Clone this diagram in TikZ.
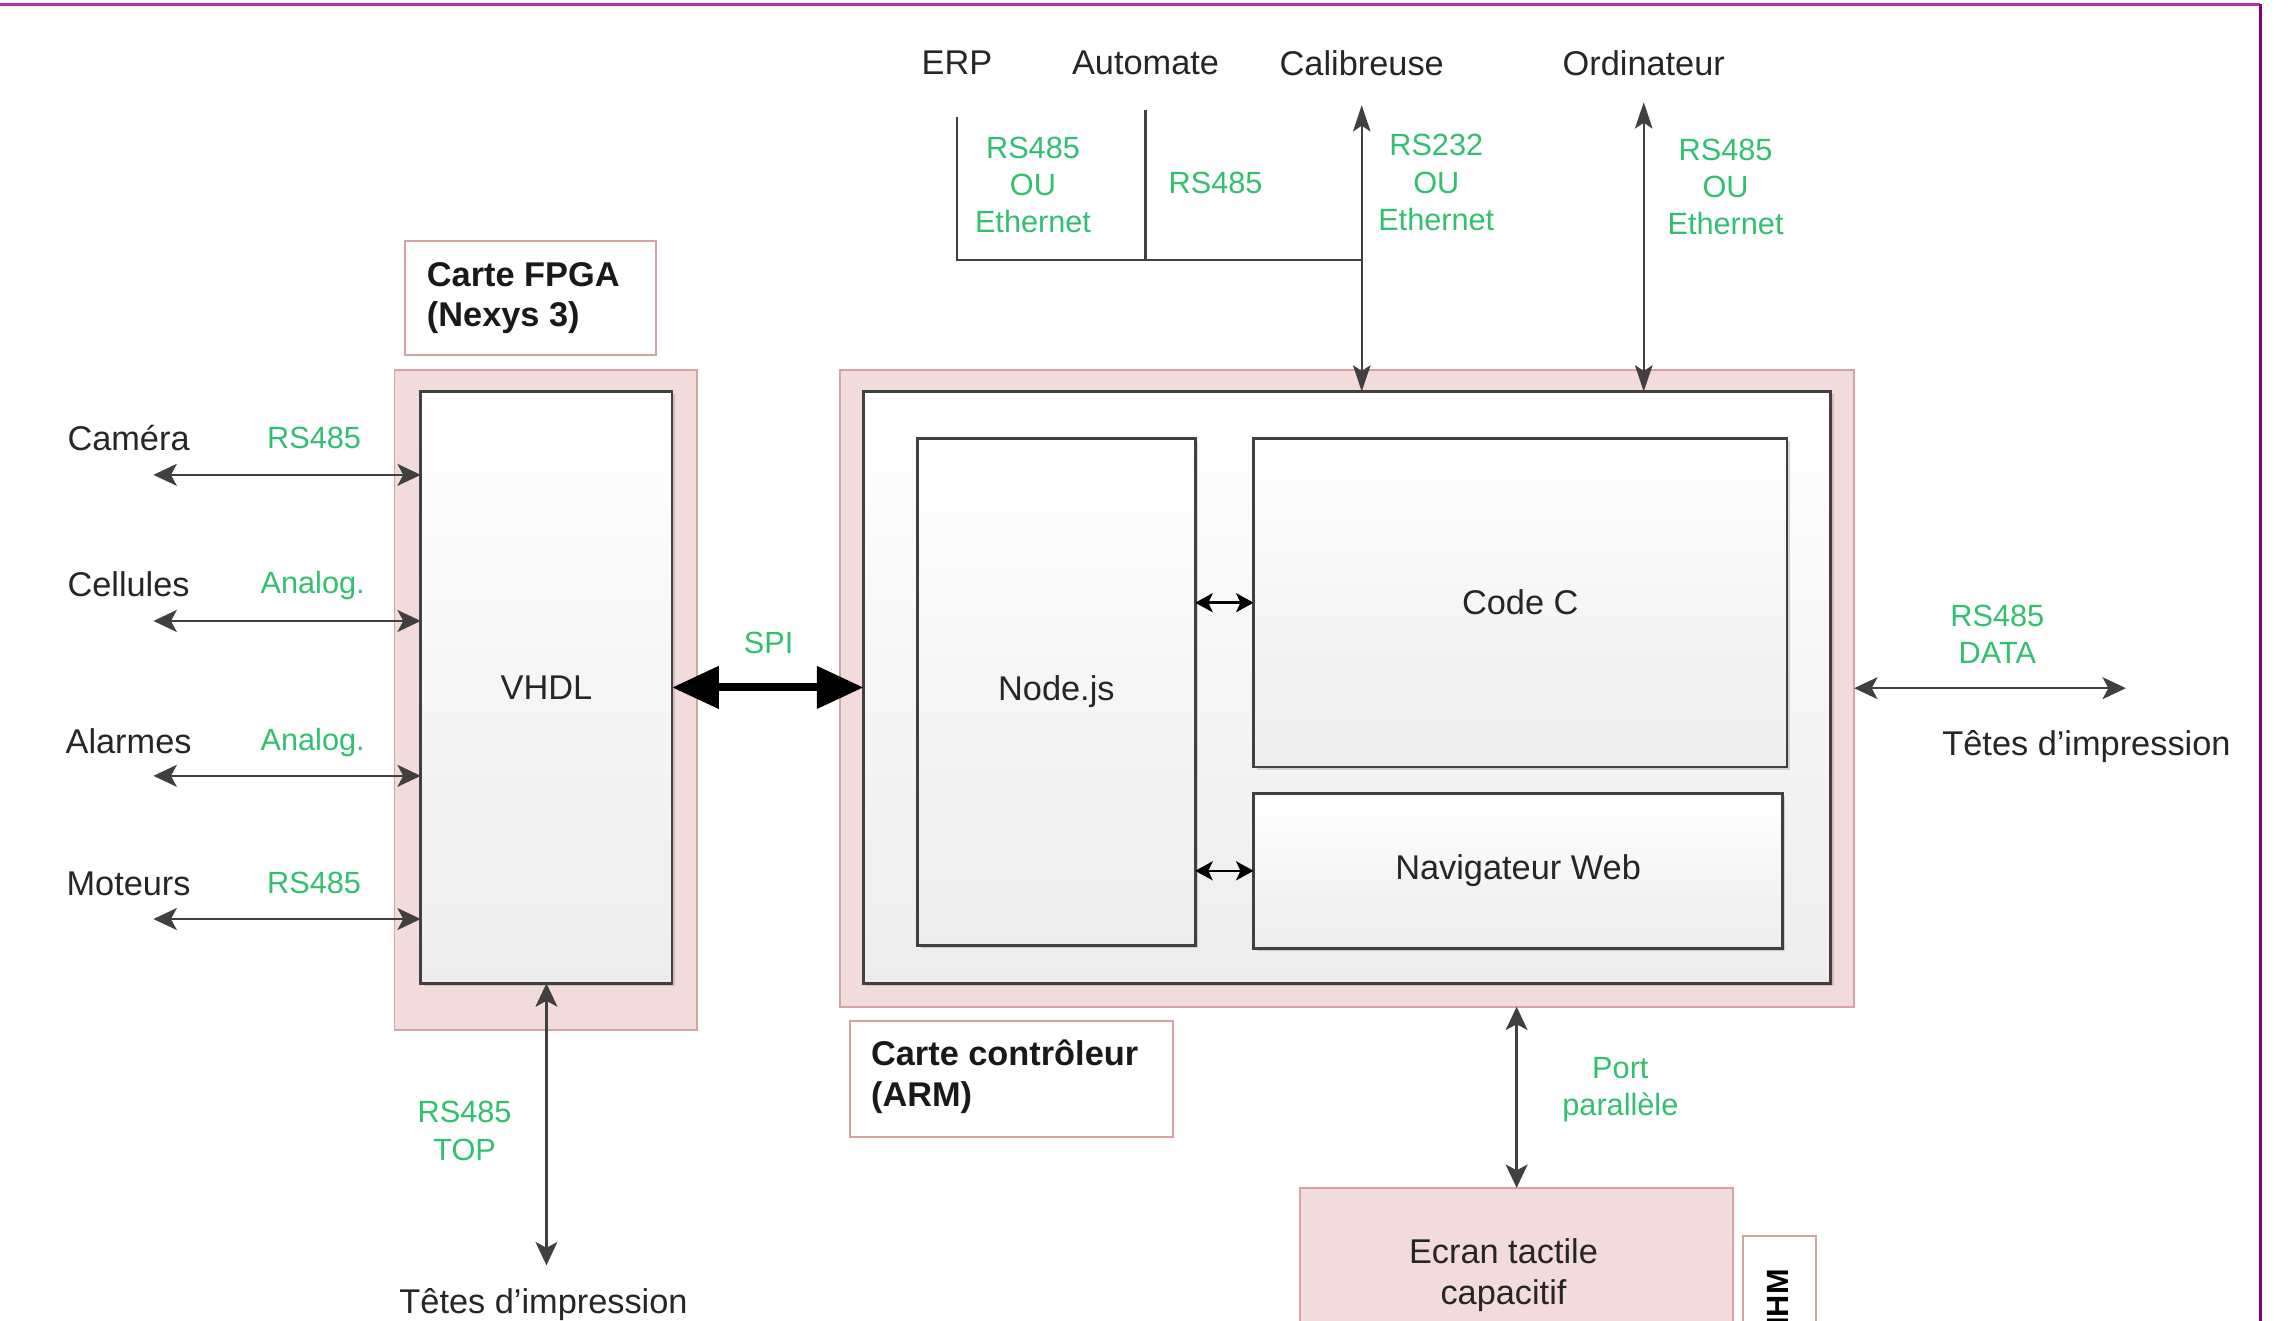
\documentclass[tikz,border=0pt]{standalone}
\usepackage{fontspec}
\setmainfont{Liberation Sans}
\usetikzlibrary{arrows.meta,shadows}
\definecolor{pinkfill}{RGB}{242,220,219}
\definecolor{pinkline}{RGB}{214,162,162}
\definecolor{darkline}{RGB}{64,64,64}
\definecolor{grn}{RGB}{50,192,110}
\definecolor{purptop}{RGB}{176,52,164}
\definecolor{purpright}{RGB}{128,0,128}
\begin{document}
\begin{tikzpicture}[x=1pt,y=-1pt,
  base/.style={rectangle, inner sep=0pt, outer sep=0pt, anchor=north west},
  pinkbox/.style={base, draw=pinkline, fill=pinkfill, line width=1.3pt},
  labbox/.style={base, draw=pinkline, fill=white, line width=1.3pt},
  swbox/.style={base, draw=darkline, line width=1.8pt, top color=white, bottom color=black!7,
    drop shadow={shadow xshift=2pt, shadow yshift=-2pt, opacity=0.25, fill=black!60},
    font=\fontsize{23.5}{28}\selectfont, text=black!85},
  blk/.style={font=\fontsize{23.5}{28}\selectfont, text=black!85, inner sep=0pt},
  bld/.style={font=\fontsize{23.5}{28}\selectfont\bfseries, text=black!90, inner sep=0pt, align=left},
  grl/.style={font=\fontsize{21}{25.5}\selectfont, text=grn, inner sep=0pt, align=center},
  garrow/.style={draw=darkline, line width=1.6pt,
    {Stealth[length=16pt,width=15pt,inset=4pt]}-{Stealth[length=16pt,width=15pt,inset=4pt]}},
  garrowtop/.style={draw=darkline, line width=1.6pt,
    {Stealth[length=18pt,width=12pt,inset=4pt]}-{Stealth[length=18pt,width=12pt,inset=4pt]}},
  sarrow/.style={draw=black, line width=1.8pt,
    {Stealth[length=12pt,width=13pt,inset=3pt]}-{Stealth[length=12pt,width=13pt,inset=3pt]}},
  spiarrow/.style={draw=black, line width=5.5pt,
    {Triangle[length=32pt,width=28pt]}-{Triangle[length=32pt,width=28pt]}},
  gline/.style={draw=darkline, line width=1.5pt}
]
\path[use as bounding box] (0,0) rectangle (1568,904);
\clip (0,0) rectangle (1568,904);
\fill[white] (0,0) rectangle (1568,904);

% frame
\draw[purptop, line width=2.5pt] (0,3) -- (1547,3);
\draw[purpright, line width=2.5pt] (1547,3) -- (1547,910);

% FPGA
\node[labbox, minimum width=172pt, minimum height=78pt] (fpgalab) at (277,165) {};
\node[bld, anchor=west] (fpgatxt) at (292,204) {Carte FPGA\\(Nexys 3)};
\node[pinkbox, minimum width=207pt, minimum height=452pt] (fpga) at (270,253) {};
\node[swbox, minimum width=172pt, minimum height=405pt] (vhdl) at (288,268) {VHDL};

% Controller
\node[pinkbox, minimum width=694pt, minimum height=436pt] (ctrl) at (575,253) {};
\node[swbox, minimum width=662pt, minimum height=405pt] (ctrlin) at (591,268) {};
\node[swbox, minimum width=190pt, minimum height=347pt] (nodejs) at (628,300) {Node.js};
\node[swbox, minimum width=365pt, minimum height=225pt] (codec) at (858,300) {Code C};
\node[swbox, minimum width=362pt, minimum height=106pt] (nav) at (858,543) {Navigateur Web};
\node[labbox, minimum width=221pt, minimum height=79pt] (ctrllab) at (582,699) {};
\node[bld, anchor=west] (ctrltxt) at (596,737) {Carte contrôleur\\(ARM)};

% Ecran / IHM
\node[pinkbox, minimum width=296pt, minimum height=130pt] (ecran) at (890,813) {};
\node[blk, align=center, anchor=center] (ecrantxt) at (1029,873) {Ecran tactile\\capacitif};
\node[labbox, minimum width=50pt, minimum height=100pt] (ihm) at (1193,846) {};
\node[font=\fontsize{21}{25}\selectfont\bfseries, inner sep=0pt, rotate=90] (ihmtxt) at (1217,888) {IHM};

% left side
\node[blk] (camera) at (88,300) {Caméra};
\node[blk] (cellules) at (88,400) {Cellules};
\node[blk] (alarmes) at (88,507) {Alarmes};
\node[blk] (moteurs) at (88,605) {Moteurs};
\node[grl] (g1) at (215,300) {RS485};
\node[grl] (g2) at (214,401) {Analog.};
\node[grl] (g3) at (214,508) {Analog.};
\node[grl] (g4) at (215,604) {RS485};
\coordinate (c1) at (105,325);
\coordinate (c2) at (105,425);
\coordinate (c3) at (105,531);
\coordinate (c4) at (105,629);
\draw[garrow] (c1) -- (vhdl.west |- c1);
\draw[garrow] (c2) -- (vhdl.west |- c2);
\draw[garrow] (c3) -- (vhdl.west |- c3);
\draw[garrow] (c4) -- (vhdl.west |- c4);

% bottom of FPGA
\coordinate (tb) at (374,866);
\draw[garrow] (vhdl.south) -- (tb);
\node[grl] (g5) at (318,774) {RS485\\TOP};
\node[blk] (tetesb) at (372,893) {Têtes d’impression};

% SPI
\draw[spiarrow] (vhdl.east) -- (ctrlin.west);
\node[grl] (spi) at (526,440) {SPI};

% internal
\draw[sarrow] (nodejs.east |- codec.west) -- (codec.west);
\draw[sarrow] (nodejs.east |- nav.west) -- (nav.west);

% right
\coordinate (rt) at (1455,471);
\draw[garrow] (ctrl.east) -- (rt);
\node[grl] (g6) at (1367,434) {RS485\\DATA};
\node[blk] (tetesr) at (1428,511) {Têtes d’impression};

% port parallele
\draw[garrow] (ecran.north |- ctrl.south) -- (ecran.north);
\node[grl] (g7) at (1109,746) {Port\\parallèle};

% top
\node[blk] (erp) at (655,43) {ERP};
\node[blk] (automate) at (784,43) {Automate};
\node[blk] (calib) at (932,43) {Calibreuse};
\node[blk] (ordi) at (1125,43) {Ordinateur};
\coordinate (erpc) at (655,80);
\coordinate (autc) at (784,75);
\coordinate (calc) at (932,72);
\coordinate (ordc) at (1125,70);
\coordinate (jn) at (932,178);
\draw[gline] (erpc) |- (jn);
\draw[gline] (autc) -- (autc |- jn);
\draw[garrowtop] (calc) -- (calc |- ctrlin.north);
\draw[garrowtop] (ordc) -- (ordc |- ctrlin.north);
\node[grl] (g8) at (707,126.5) {RS485\\OU\\Ethernet};
\node[grl] (g9) at (832,125) {RS485};
\node[grl] (g10) at (983,125) {RS232\\OU\\Ethernet};
\node[grl] (g11) at (1181,128) {RS485\\OU\\Ethernet};
\end{tikzpicture}
\end{document}
